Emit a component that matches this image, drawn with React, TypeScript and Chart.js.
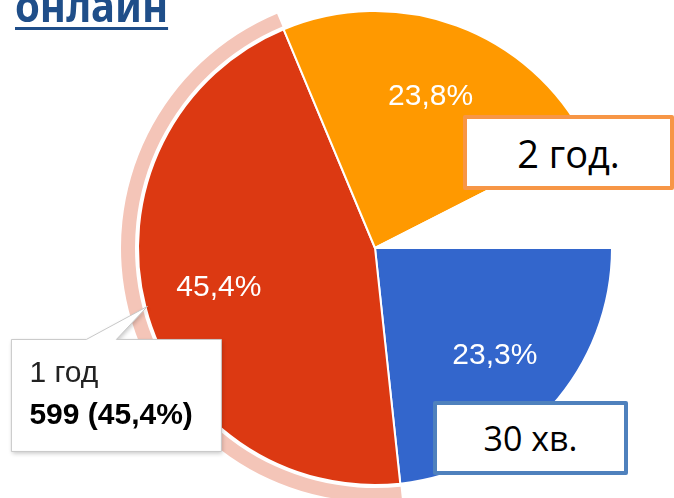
import React, { useEffect, useRef } from "react";
import { Chart, registerables } from "chart.js";

Chart.register(...registerables);

const TITLE = "онлайн";
const CATEGORIES = ["30 хв.", "1 год", "2 год.", "інше"];
const PERCENTS = [23.3, 45.4, 23.8, 7.5];
const COLORS = ["#3366cc", "#dc3912", "#ff9900", "#ffffff"];
const SHOW_LABEL = [true, true, true, false];
const HOVER_INDEX = 1;
const HOVER_COUNT = 599;
const HOVER_RING_COLOR = "#f4c5b8";

const fmt = (v: number) => v.toFixed(1).replace(".", ",") + "%";

const sliceLabels = {
  id: "sliceLabels",
  afterDatasetsDraw(chart: any) {
    const meta = chart.getDatasetMeta(2);
    const ctx = chart.ctx;
    ctx.save();
    ctx.font = "30px 'Liberation Sans', Arial, sans-serif";
    ctx.fillStyle = "#ffffff";
    ctx.textAlign = "center";
    ctx.textBaseline = "middle";
    meta.data.forEach((arc: any, i: number) => {
      if (!SHOW_LABEL[i]) return;
      const { x, y, startAngle, endAngle, outerRadius } = arc.getProps(
        ["x", "y", "startAngle", "endAngle", "outerRadius"],
        true
      );
      const mid = (startAngle + endAngle) / 2;
      const r = outerRadius * 0.68;
      ctx.fillText(fmt(PERCENTS[i]), x + Math.cos(mid) * r, y + Math.sin(mid) * r);
    });
    ctx.restore();
  },
};

const hoverTooltip = {
  id: "hoverTooltip",
  afterDraw(chart: any) {
    const meta = chart.getDatasetMeta(2);
    const arc = meta.data[HOVER_INDEX];
    if (!arc) return;
    const { x, y, startAngle, endAngle, outerRadius } = arc.getProps(
      ["x", "y", "startAngle", "endAngle", "outerRadius"],
      true
    );
    const mid = (startAngle + endAngle) / 2;
    const tx = x + Math.cos(mid) * (outerRadius - 2);
    const ty = y + Math.sin(mid) * (outerRadius - 2);
    const left = tx - 136;
    const top = ty + 33;
    const w = 210;
    const h = 112;
    const ctx = chart.ctx;
    ctx.save();
    ctx.beginPath();
    ctx.moveTo(left, top);
    ctx.lineTo(tx - 61, top);
    ctx.lineTo(tx, ty);
    ctx.lineTo(tx - 31, top);
    ctx.lineTo(left + w, top);
    ctx.lineTo(left + w, top + h);
    ctx.lineTo(left, top + h);
    ctx.closePath();
    ctx.shadowColor = "rgba(0,0,0,0.22)";
    ctx.shadowBlur = 4;
    ctx.shadowOffsetX = 1;
    ctx.shadowOffsetY = 2;
    ctx.fillStyle = "#ffffff";
    ctx.fill();
    ctx.shadowColor = "transparent";
    ctx.strokeStyle = "#c8c8c8";
    ctx.lineWidth = 1;
    ctx.stroke();
    ctx.textAlign = "left";
    ctx.textBaseline = "alphabetic";
    ctx.fillStyle = "#222222";
    ctx.font = "30px 'Liberation Sans', Arial, sans-serif";
    ctx.fillText(CATEGORIES[HOVER_INDEX], left + 18, top + 43);
    ctx.fillStyle = "#000000";
    ctx.font = "bold 30px 'Liberation Sans', Arial, sans-serif";
    ctx.fillText(`${HOVER_COUNT} (${fmt(PERCENTS[HOVER_INDEX])})`, left + 18, top + 85);
    ctx.restore();
  },
};

export default function App() {
  const ref = useRef<HTMLCanvasElement | null>(null);

  useEffect(() => {
    if (!ref.current) return;
    const chart = new Chart(ref.current, {
      type: "pie",
      data: {
        labels: CATEGORIES,
        datasets: [
          {
            data: PERCENTS,
            backgroundColor: CATEGORIES.map((_, i) =>
              i === HOVER_INDEX ? HOVER_RING_COLOR : "rgba(0,0,0,0)"
            ),
            borderWidth: 0,
            hoverBorderWidth: 0,
            offset: 0,
            hoverOffset: 0,
            weight: 14,
          } as any,
          {
            data: PERCENTS,
            backgroundColor: "rgba(0,0,0,0)",
            borderWidth: 0,
            hoverBorderWidth: 0,
            offset: 0,
            hoverOffset: 0,
            weight: 3,
          } as any,
          {
            data: PERCENTS,
            backgroundColor: COLORS,
            borderColor: "#ffffff",
            borderWidth: 2,
            hoverBorderWidth: 2,
            offset: 0,
            hoverOffset: 0,
            weight: 237,
          } as any,
        ],
      },
      options: {
        animation: false,
        responsive: false,
        devicePixelRatio: 1,
        events: [],
        rotation: 90,
        layout: { padding: { left: 121, right: 45, top: 6, bottom: 6 } },
        plugins: {
          legend: { display: false },
          tooltip: { enabled: false },
          title: { display: false },
        },
      } as any,
      plugins: [sliceLabels, hoverTooltip],
    });
    return () => chart.destroy();
  }, []);

  return (
    <div
      style={{
        position: "fixed",
        left: 0,
        top: 0,
        width: 674,
        height: 498,
        overflow: "hidden",
        background: "#ffffff",
      }}
    >
      <canvas
        ref={ref}
        width={674}
        height={520}
        style={{ position: "absolute", left: 0, top: -12, width: 674, height: 520 }}
      />
      <div
        style={{
          position: "absolute",
          left: 15,
          top: -18,
          font: "bold 45px 'Noto Sans', sans-serif",
          lineHeight: "45px",
          color: "#1f4e89",
          borderBottom: "3px solid #1f4e89",
          whiteSpace: "nowrap",
          transform: "scaleX(0.89)",
          transformOrigin: "left top",
        }}
      >
        {TITLE}
      </div>
      <div
        style={{
          position: "absolute",
          left: 463,
          top: 115,
          width: 211,
          height: 75,
          boxSizing: "border-box",
          border: "4px solid #f79646",
          borderRadius: 2,
          background: "#ffffff",
          display: "flex",
          alignItems: "center",
          justifyContent: "center",
          font: "38px 'Open Sans', sans-serif",
          color: "#000000",
          whiteSpace: "nowrap",
        }}
      >
        {CATEGORIES[2]}
      </div>
      <div
        style={{
          position: "absolute",
          left: 433,
          top: 401,
          width: 195,
          height: 74,
          boxSizing: "border-box",
          border: "4px solid #4f81bd",
          borderRadius: 2,
          background: "#ffffff",
          display: "flex",
          alignItems: "center",
          justifyContent: "center",
          font: "34px 'Open Sans', sans-serif",
          color: "#000000",
          whiteSpace: "nowrap",
        }}
      >
        {CATEGORIES[0]}
      </div>
    </div>
  );
}
